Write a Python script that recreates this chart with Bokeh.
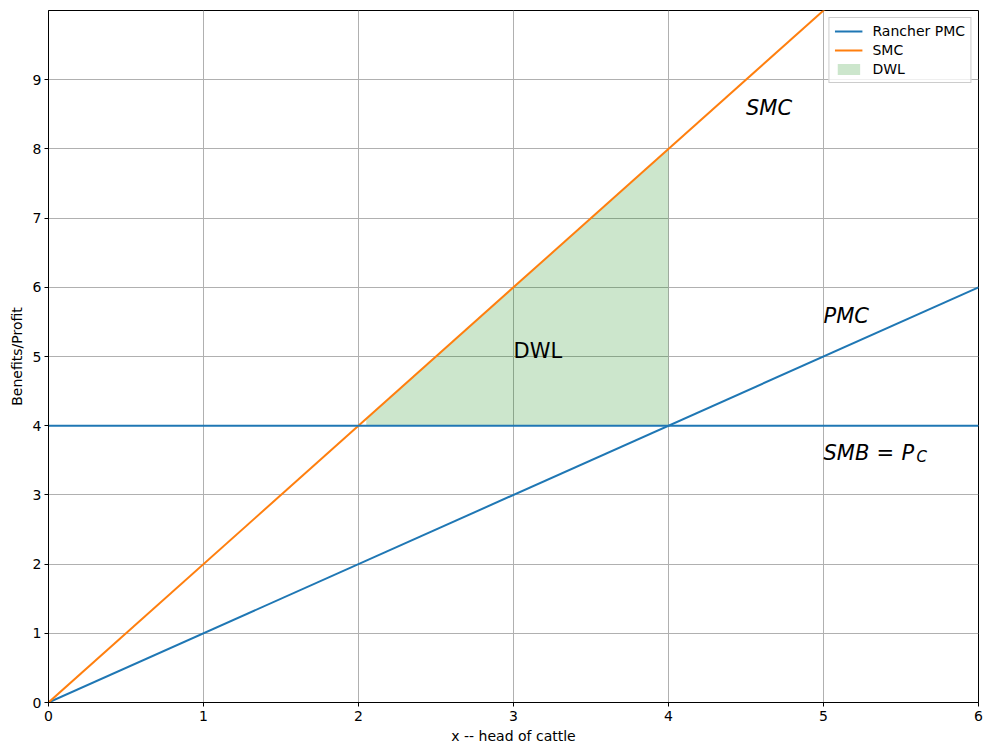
from bokeh.plotting import figure
from bokeh.models import FixedTicker, Range1d, Legend, LegendItem
from bokeh.core.properties import value
from bokeh.embed import file_html
from bokeh.resources import INLINE

# Data
x_line = [0, 6]
pmc = [0, 6]            # Rancher PMC: y = x
smc = [0, 12]           # SMC: y = 2x
smb_price = [4, 4]      # SMB = P_C
dwl_x = [2.05, 4.0]
dwl_top = [4.1, 8.0]
dwl_bottom = [4.0, 4.0]
x_ticks = [0, 1, 2, 3, 4, 5, 6]
y_ticks = [0, 1, 2, 3, 4, 5, 6, 7, 8, 9]

# annotation positions (data units)
lbl_smc = (4.5, 8.5)
lbl_pmc = (5.0, 5.5)
lbl_smb = (5.0, 3.5)
lbl_dwl = (3.0, 5.0)

BLUE = "#1f77b4"
ORANGE = "#ff7f0e"
FONT = "DejaVu Sans"

p = figure(width=984, height=748, output_backend="svg", toolbar_location=None,
           x_range=Range1d(0, 6), y_range=Range1d(0, 10),
           min_border_left=48, min_border_right=6, min_border_top=10, min_border_bottom=46)

p.outline_line_color = "black"
p.outline_line_width = 1
p.background_fill_color = "white"
p.border_fill_color = "white"

for ax in (p.xaxis[0], p.yaxis[0]):
    ax.minor_tick_line_color = None
    ax.major_tick_in = 0
    ax.major_tick_out = 4
    ax.major_tick_line_color = "black"
    ax.axis_line_color = "black"
    ax.major_label_text_font = FONT
    ax.major_label_text_font_size = "14px"
    ax.major_label_text_color = "black"
    ax.axis_label_text_font = FONT
    ax.axis_label_text_font_size = "14px"
    ax.axis_label_text_font_style = "normal"
    ax.axis_label_text_color = "black"

p.xaxis.ticker = FixedTicker(ticks=x_ticks)
p.yaxis.ticker = FixedTicker(ticks=y_ticks)
p.xaxis.axis_label = "x -- head of cattle"
p.yaxis.axis_label = "Benefits/Profit"
p.xaxis.major_label_standoff = 4
p.yaxis.major_label_standoff = 3
p.xaxis.axis_label_standoff = 4
p.yaxis.axis_label_standoff = 5

p.xgrid.ticker = FixedTicker(ticks=x_ticks)
p.ygrid.ticker = FixedTicker(ticks=y_ticks)
p.grid.grid_line_color = "#b0b0b0"
p.grid.grid_line_width = 1

r_dwl = p.varea(x=dwl_x, y1=dwl_bottom, y2=dwl_top, fill_color="green", fill_alpha=0.2)
r_pmc = p.line(x_line, pmc, line_color=BLUE, line_width=2)
r_smc = p.line(x_line, smc, line_color=ORANGE, line_width=2)
p.line(x_line, smb_price, line_color=BLUE, line_width=2)

# labels
def txt(x, y, s, style="normal", size="21px", xo=0, yo=-6):
    p.text(x=[x], y=[y], text=[s], text_font=value(FONT), text_font_size=size,
           text_font_style=style, text_baseline="alphabetic", text_align="left",
           text_color="black", x_offset=xo, y_offset=yo)

txt(lbl_smc[0], lbl_smc[1], "SMC", "italic")
txt(lbl_pmc[0], lbl_pmc[1], "PMC", "italic")
txt(lbl_dwl[0], lbl_dwl[1], "DWL", "normal")
txt(lbl_smb[0], lbl_smb[1], "SMB", "italic", yo=-7)
txt(lbl_smb[0], lbl_smb[1], "=", "normal", xo=53, yo=-7)
txt(lbl_smb[0], lbl_smb[1], "P", "italic", xo=78, yo=-7)
txt(lbl_smb[0], lbl_smb[1], "C", "italic", size="15px", xo=93, yo=-3)

legend = Legend(items=[LegendItem(label="Rancher PMC", renderers=[r_pmc]),
                       LegendItem(label="SMC", renderers=[r_smc]),
                       LegendItem(label="DWL", renderers=[r_dwl])],
                location="top_right")
legend.label_text_font = FONT
legend.label_text_font_size = "14px"
legend.label_text_color = "black"
legend.border_line_color = "#cccccc"
legend.border_line_alpha = 1
legend.background_fill_alpha = 0.8
legend.glyph_width = 28
legend.glyph_height = 14
legend.label_standoff = 10
legend.spacing = 3
legend.padding = 5
legend.margin = 7
legend.label_height = 16
p.add_layout(legend)

open("out.html", "w").write(file_html(p, INLINE))
